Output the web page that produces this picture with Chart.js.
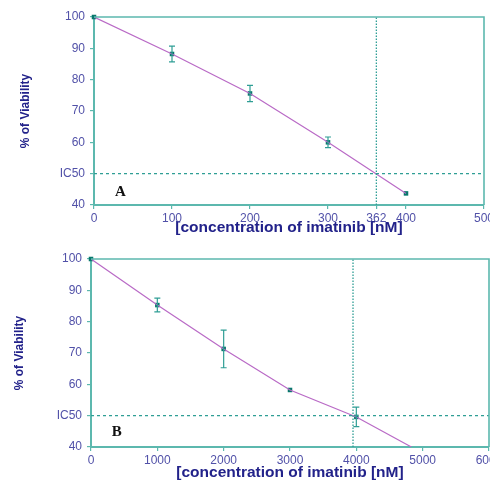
<!DOCTYPE html>
<html>
<head>
<meta charset="utf-8">
<script src="https://cdn.jsdelivr.net/npm/chart.js@4.4.0/dist/chart.umd.min.js"></script>
<style>
body { margin: 0; background: #fff; }
#wrapA { position: absolute; left: 0; top: 0; width: 490px; height: 245px; }
#wrapB { position: absolute; left: 0; top: 245px; width: 490px; height: 237px; }
</style>
</head>
<body>
<div id="wrapA"><canvas id="chartA"></canvas></div>
<div id="wrapB"><canvas id="chartB"></canvas></div>
<script>
'use strict'

// panel A data
const concA = [0, 100, 200, 300, 400];
const viabA = [100, 88.2, 75.6, 60.0, 43.7];
const errA = [0, 2.5, 2.6, 1.7, 0];
const fitXA = [0, 100, 200, 300, 400];
const fitYA = [100, 88.2, 75.6, 60.0, 43.7];
const ic50A = 362;
const xTicksA = [0, 100, 200, 300, 362, 400, 500];

// panel B data
const concB = [0, 1000, 2000, 3000, 4000];
const viabB = [100, 85.3, 71.3, 58.2, 49.6];
const errB = [0, 2.2, 6.0, 0, 3.1];
const fitXB = [0, 1000, 2000, 3000, 4000, 4830];
const fitYB = [100, 85.3, 71.3, 58.2, 49.6, 40];
const ic50B = 3950;
const xTicksB = [0, 1000, 2000, 3000, 4000, 5000, 6000];

const yTicks = [40, 50, 60, 70, 80, 90, 100];

const teal = "#5cb8ae";
const tealDark = "#2f9e95";
const markerColor = "#08786c";
const lineColor = "#b96ac6";
const tickColor = "#5151a8";
const titleColor = "#22228a";
const sans = "'Liberation Sans', Arial, sans-serif";

const toPoints = (xs, ys) => xs.map((x, i) => ({ x: x, y: ys[i] }));

// error bars, frame and panel letter
const extrasPlugin = {
    id: "extras",
    afterDatasetsDraw(chart, args, opts) {
        const ctx = chart.ctx;
        const xs = chart.scales.x;
        const ys = chart.scales.y;
        const area = chart.chartArea;

        ctx.save();
        ctx.strokeStyle = tealDark;
        ctx.lineWidth = 1.2;
        opts.xs.forEach((x, i) => {
            const err = opts.err[i];
            if (!err) return;
            const px = xs.getPixelForValue(x);
            const top = ys.getPixelForValue(opts.ys[i] + err);
            const bot = ys.getPixelForValue(opts.ys[i] - err);
            ctx.beginPath();
            ctx.moveTo(px, top); ctx.lineTo(px, bot);
            ctx.moveTo(px - 3, top); ctx.lineTo(px + 3, top);
            ctx.moveTo(px - 3, bot); ctx.lineTo(px + 3, bot);
            ctx.stroke();
        });

        // top and right frame
        ctx.strokeStyle = teal;
        ctx.lineWidth = 1.6;
        ctx.beginPath();
        ctx.moveTo(area.left, area.top);
        ctx.lineTo(area.right, area.top);
        ctx.lineTo(area.right, area.bottom);
        ctx.stroke();

        // panel letter
        ctx.fillStyle = "#111";
        ctx.font = "bold 15px 'Liberation Serif', 'DejaVu Serif', serif";
        ctx.textAlign = "center";
        ctx.textBaseline = "middle";
        ctx.fillText(opts.letter, xs.getPixelForValue(opts.letterX), ys.getPixelForValue(opts.letterY));
        ctx.restore();
    }
};

function makeChart(canvasId, p) {
    return new Chart(document.getElementById(canvasId), {
        type: "scatter",
        data: {
            datasets: [
                {
                    data: [{ x: 0, y: 50 }, { x: p.xMax, y: 50 }],
                    showLine: true,
                    borderColor: tealDark,
                    borderWidth: 1.2,
                    borderDash: [3, 3],
                    pointRadius: 0
                },
                {
                    data: [{ x: p.ic50, y: 40 }, { x: p.ic50, y: 100 }],
                    showLine: true,
                    borderColor: tealDark,
                    borderWidth: 1.3,
                    borderDash: [1.5, 1.5],
                    pointRadius: 0
                },
                {
                    data: toPoints(p.fitX, p.fitY),
                    showLine: true,
                    borderColor: lineColor,
                    borderWidth: 1.2,
                    pointRadius: 0
                },
                {
                    data: toPoints(p.conc, p.viab),
                    showLine: false,
                    pointStyle: "rect",
                    pointRadius: 3.2,
                    backgroundColor: markerColor,
                    borderColor: markerColor,
                    borderWidth: 0,
                    clip: false
                }
            ]
        },
        options: {
            responsive: true,
            maintainAspectRatio: false,
            animation: false,
            layout: {
                autoPadding: false,
                padding: { top: p.padTop, right: p.padRight, left: 0, bottom: 0 }
            },
            plugins: {
                legend: { display: false },
                tooltip: { enabled: false },
                extras: {
                    xs: p.conc, ys: p.viab, err: p.err,
                    letter: p.letter, letterX: p.letterX, letterY: p.letterY
                }
            },
            scales: {
                x: {
                    type: "linear",
                    min: 0,
                    max: p.xMax,
                    afterBuildTicks: (scale) => { scale.ticks = p.xTicks.map(v => ({ value: v })); },
                    afterFit: (scale) => {
                        scale.height = p.bottomH;
                        scale.paddingLeft = 0;
                        scale.paddingRight = 0;
                    },
                    border: { color: teal, width: 2 },
                    grid: { drawOnChartArea: false, drawTicks: true, tickLength: 4, color: teal, lineWidth: 1.2 },
                    ticks: {
                        autoSkip: false,
                        maxRotation: 0,
                        padding: 2,
                        color: tickColor,
                        font: { family: sans, size: 12 },
                        callback: (v) => String(v)
                    },
                    title: {
                        display: true,
                        text: "[concentration of imatinib [nM]",
                        color: titleColor,
                        font: { family: sans, size: 15.5, weight: "bold" },
                        padding: { top: 0, bottom: p.xTitlePad }
                    }
                },
                y: {
                    type: "linear",
                    min: 40,
                    max: 100,
                    afterBuildTicks: (scale) => { scale.ticks = yTicks.map(v => ({ value: v })); },
                    afterFit: (scale) => {
                        scale.width = p.leftW;
                        scale.paddingTop = 0;
                        scale.paddingBottom = 0;
                    },
                    border: { color: teal, width: 2 },
                    grid: { drawOnChartArea: false, drawTicks: true, tickLength: 4, color: teal, lineWidth: 1.2 },
                    ticks: {
                        padding: 5,
                        color: tickColor,
                        font: { family: sans, size: 12 },
                        callback: (v) => v === 50 ? "IC50" : String(v)
                    },
                    title: {
                        display: true,
                        text: "% of Viability",
                        color: titleColor,
                        font: { family: sans, size: 12, weight: "bold" },
                        padding: { top: p.yTitlePad, bottom: 0 }
                    }
                }
            }
        },
        plugins: [extrasPlugin]
    });
}

makeChart("chartA", {
    conc: concA, viab: viabA, err: errA, fitX: fitXA, fitY: fitYA,
    ic50: ic50A, xMax: 500, xTicks: xTicksA,
    letter: "A", letterX: 34, letterY: 44.1,
    padTop: 17, padRight: 6, leftW: 94, bottomH: 40, xTitlePad: 8, yTitlePad: 18
});

makeChart("chartB", {
    conc: concB, viab: viabB, err: errB, fitX: fitXB, fitY: fitYB,
    ic50: ic50B, xMax: 6000, xTicks: xTicksB,
    letter: "B", letterX: 390, letterY: 44.8,
    padTop: 14, padRight: 1, leftW: 91, bottomH: 35, xTitlePad: 0, yTitlePad: 12
});
</script>
</body>
</html>
